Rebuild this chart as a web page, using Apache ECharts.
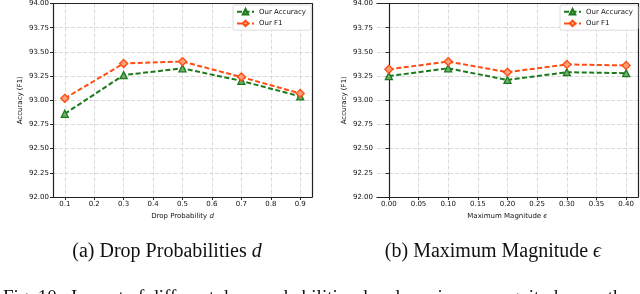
<!DOCTYPE html>
<html>
<head>
<meta charset="utf-8">
<script src="https://cdn.jsdelivr.net/npm/echarts@6/dist/echarts.min.js"></script>
<style>
html,body{margin:0;padding:0;background:#fff;}
#c{width:640px;height:294px;}
</style>
</head>
<body>
<div id="c"></div>
<script>
// ---- data ----
const dropX = [0.1, 0.3, 0.5, 0.7, 0.9];
const dropAcc = [92.86, 93.26, 93.33, 93.20, 93.04];
const dropF1 = [93.02, 93.38, 93.40, 93.24, 93.07];
const magX = [0.00, 0.10, 0.20, 0.30, 0.40];
const magAcc = [93.25, 93.33, 93.21, 93.29, 93.28];
const magF1 = [93.32, 93.40, 93.29, 93.37, 93.36];
const dropTicks = [0.1, 0.2, 0.3, 0.4, 0.5, 0.6, 0.7, 0.8, 0.9];
const magTicks = [0.00, 0.05, 0.10, 0.15, 0.20, 0.25, 0.30, 0.35, 0.40];
const seriesNames = ['Our Accuracy', 'Our F1'];
const yLabel = 'Accuracy (F1)';
const captionA = '(a) Drop Probabilities ';
const captionB = '(b) Maximum Magnitude ';
const figText = 'Fig. 10.  Impact of different drop probabilities d and maximum magnitude \u03f5 on the performance';

const GREEN = '#1c7a1c';
const ORANGE = '#ff4d12';
const SANS = 'DejaVu Sans';
const SERIF = 'Liberation Serif';
const FRAME = '#222';

function zip(xs, ys) { return xs.map((x, i) => [x, ys[i]]); }

const grids = [
  {left: 53, top: 2, width: 259, height: 195},
  {left: 377, top: 2, width: 261, height: 195}
];

function xAxis(idx, min, max, ticks, fmt, nameRich) {
  return {
    type: 'value', gridIndex: idx, min: min, max: max,
    name: nameRich, nameLocation: 'middle', nameGap: 15,
    nameTextStyle: {
      fontFamily: SANS, fontSize: 7, color: '#111',
      rich: {n: {fontFamily: SANS, fontSize: 7, color: '#111'}, i: {fontFamily: SANS, fontSize: 7, fontStyle: 'italic', color: '#111'}}
    },
    axisLine: {show: true, lineStyle: {color: FRAME, width: 1.2}},
    axisTick: {show: true, length: 3, customValues: ticks, lineStyle: {color: FRAME}},
    axisLabel: {customValues: ticks, formatter: v => v.toFixed(fmt), fontFamily: SANS, fontSize: 7, color: '#111', margin: 4},
    splitLine: {show: true, lineStyle: {color: '#cfcfcf', type: [4, 2], width: 0.8}}
  };
}
function frameX(idx, min, max) {
  return {
    type: 'value', gridIndex: idx, min: min, max: max, position: 'top',
    axisLine: {show: true, onZero: false, lineStyle: {color: FRAME, width: 1.2}},
    axisTick: {show: false}, axisLabel: {show: false}, splitLine: {show: false}
  };
}
function yAxis(idx) {
  return {
    type: 'value', gridIndex: idx, min: 92, max: 94, interval: 0.25,
    name: yLabel, nameLocation: 'middle', nameGap: 29,
    nameTextStyle: {fontFamily: SANS, fontSize: 7, color: '#111'},
    axisLine: {show: true, lineStyle: {color: FRAME, width: 1.2}},
    axisTick: {show: true, length: 3, lineStyle: {color: FRAME}},
    axisLabel: {formatter: v => v.toFixed(2), fontFamily: SANS, fontSize: 7, color: '#111', margin: 4},
    splitLine: {show: true, lineStyle: {color: '#cfcfcf', type: [4, 2], width: 0.8}}
  };
}
function frameY(idx) {
  return {
    type: 'value', gridIndex: idx, min: 92, max: 94, interval: 0.25, position: 'right',
    axisLine: {show: true, onZero: false, lineStyle: {color: FRAME, width: 1.2}},
    axisTick: {show: false}, axisLabel: {show: false}, splitLine: {show: false}
  };
}

function lineSeries(name, idx, data, color, fill, symbol, size) {
  return {
    name: name, type: 'line', xAxisIndex: idx, yAxisIndex: idx, data: data,
    symbol: symbol, symbolSize: size, showSymbol: true, z: 3,
    lineStyle: {color: color, width: 2, type: [5, 2.5]},
    itemStyle: {color: fill, borderColor: color, borderWidth: 1.3},
    animation: false
  };
}

function legend(left) {
  return {
    left: left, top: 5, orient: 'vertical', itemWidth: 17, itemHeight: 7, itemGap: 4,
    padding: [3, 5, 3, 3],
    borderColor: '#d4d4d4', borderWidth: 0.8, borderRadius: 2, backgroundColor: '#fff',
    textStyle: {fontFamily: SANS, fontSize: 7, color: '#111'},
    data: seriesNames
  };
}

const richCap = {
  t: {fontFamily: SERIF, fontSize: 20, fontWeight: 'normal', color: '#111'},
  i: {fontFamily: SERIF, fontSize: 20, fontWeight: 'normal', fontStyle: 'italic', color: '#111'}
};

const chart = echarts.init(document.getElementById('c'), null, {renderer: 'canvas'});
chart.setOption({
  animation: false,
  backgroundColor: '#fff',
  grid: grids,
  xAxis: [
    xAxis(0, 0.06, 0.94, dropTicks, 1, '{n|Drop Probability }{i|d}'),
    xAxis(1, -0.02, 0.42, magTicks, 2, '{n|Maximum Magnitude }{i|\u03f5}'),
    frameX(0, 0.06, 0.94),
    frameX(1, -0.02, 0.42)
  ],
  yAxis: [yAxis(0), yAxis(1), frameY(0), frameY(1)],
  legend: [legend(233), legend(560)],
  series: [
    lineSeries(seriesNames[0], 0, zip(dropX, dropAcc), GREEN, '#6fae6f', 'triangle', 7),
    lineSeries(seriesNames[1], 0, zip(dropX, dropF1), ORANGE, '#ffa07a', 'diamond', 8),
    lineSeries(seriesNames[0], 1, zip(magX, magAcc), GREEN, '#6fae6f', 'triangle', 7),
    lineSeries(seriesNames[1], 1, zip(magX, magF1), ORANGE, '#ffa07a', 'diamond', 8)
  ],
  title: [
    {text: '{t|' + captionA + '}{i|d}', left: 162, top: 237, textAlign: 'center',
     textStyle: {fontWeight: 'normal', rich: richCap}},
    {text: '{t|' + captionB + '}{i|\u03f5}', left: 488, top: 237, textAlign: 'center',
     textStyle: {fontWeight: 'normal', rich: richCap}},
    {text: figText, left: -2, top: 284,
     textStyle: {fontFamily: SERIF, fontSize: 19, fontWeight: 'normal', color: '#111'}}
  ]
});
</script>
</body>
</html>
